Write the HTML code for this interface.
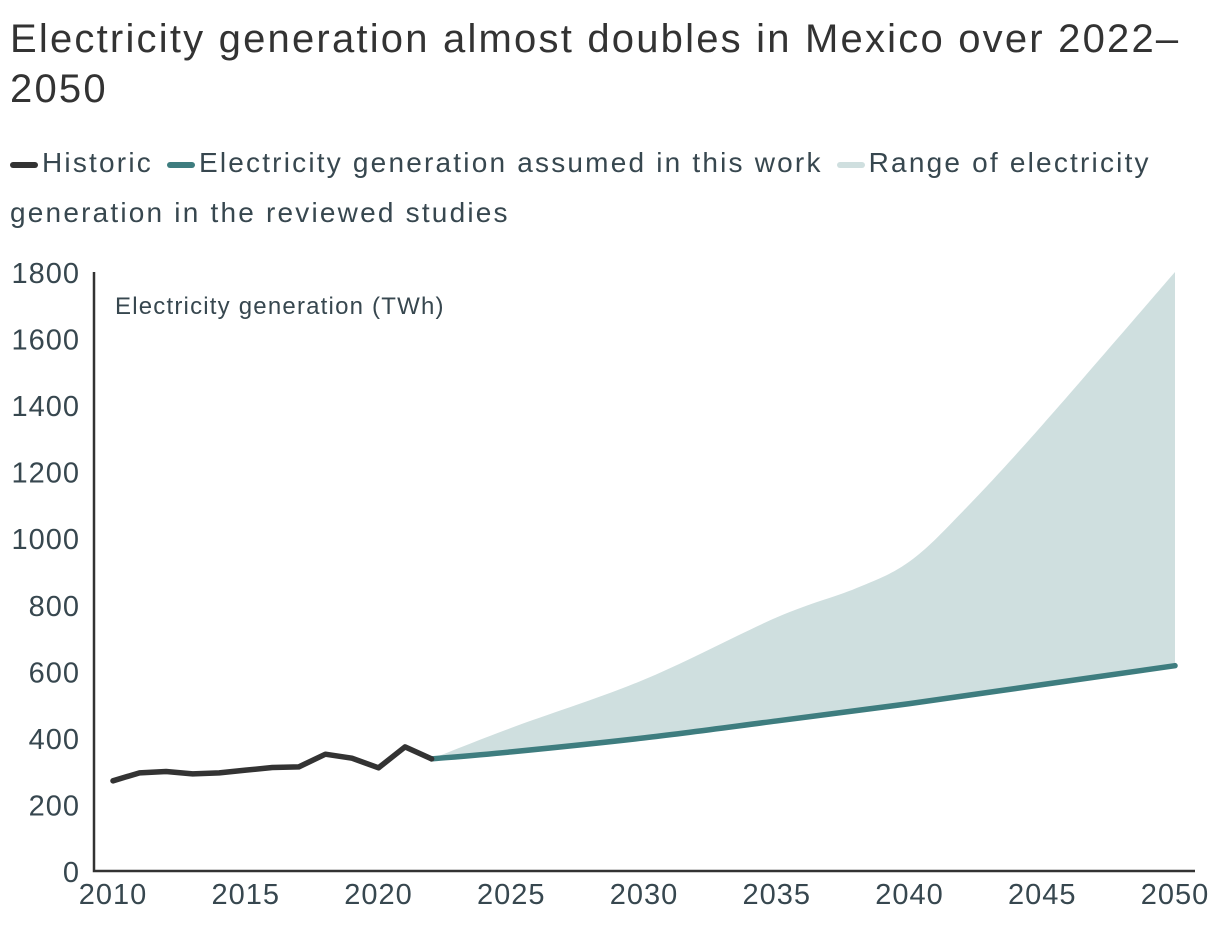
<!DOCTYPE html>
<html><head><meta charset="utf-8"><style>
body{margin:0;background:#fff;width:1220px;height:930px;overflow:hidden;font-family:"Liberation Sans",sans-serif;color:#333}
#title{position:absolute;left:10px;top:14px;font-size:40px;line-height:50px;color:#333;width:1210px;letter-spacing:2.2px;white-space:nowrap}
#legend{position:absolute;left:10px;top:138px;font-size:28px;line-height:50px;color:#37474f;width:1210px;letter-spacing:2.2px;white-space:nowrap}
.sw{display:inline-block;width:28px;height:6px;border-radius:3px;vertical-align:middle;margin-right:4px}
</style></head><body>
<div id="title">Electricity generation almost doubles in Mexico over 2022–<br>2050</div>
<div id="legend">
<span><span class="sw" style="background:#333"></span>Historic</span>
<span style="margin-left:4px"><span class="sw" style="background:#3e7d7f"></span>Electricity generation assumed in this work</span>
<span style="margin-left:4px"><span class="sw" style="background:#cfdfdf"></span>Range of electricity<br>generation in the reviewed studies</span>
</div>
<svg id="chart" width="1220" height="930" style="position:absolute;left:0;top:0"></svg>
<script>
const histYears=[2010,2011,2012,2013,2014,2015,2016,2017,2018,2019,2020,2021,2022];
const histVals=[271,295,299,292,295,303,311,313,351,339,310,373,337];
const projYears=[2022,2025,2030,2035,2040,2045,2050];
const projVals=[337,358,400,451,503,560,617];
const rangeYears=[2022,2025,2030,2035,2038,2040,2042,2045,2050];
const rangeUpper=[337,430,575,762,850,930,1080,1340,1800];
const rangeLower=[337,358,400,451,482,503,526,560,617];
const yTicks=[0,200,400,600,800,1000,1200,1400,1600,1800];
const xTicks=[2010,2015,2020,2025,2030,2035,2040,2045,2050];
const svg=document.getElementById('chart');const NS='http://www.w3.org/2000/svg';
const x=v=>113+(v-2010)*(1175-113)/40;
const y=v=>871-v*(871-272)/1800;
function mk(t,a){const e=document.createElementNS(NS,t);for(const k in a)e.setAttribute(k,a[k]);svg.appendChild(e);return e;}
function smooth(pts,start){let d=start?'M'+pts[0][0]+','+pts[0][1]:'L'+pts[0][0]+','+pts[0][1];
for(let i=0;i<pts.length-1;i++){const p0=pts[i-1]||pts[i],p1=pts[i],p2=pts[i+1],p3=pts[i+2]||p2;
const c1=[p1[0]+(p2[0]-p0[0])/6,p1[1]+(p2[1]-p0[1])/6],c2=[p2[0]-(p3[0]-p1[0])/6,p2[1]-(p3[1]-p1[1])/6];
d+='C'+c1+' '+c2+' '+p2;}return d;}
const up=rangeYears.map((t,i)=>[x(t),y(rangeUpper[i])]);
const lo=rangeYears.map((t,i)=>[x(t),y(rangeLower[i])]).reverse();
const area=mk('path',{d:smooth(up,true)+smooth(lo,false)+'Z',fill:'#cfdfdf'});


const ax=mk('path',{d:'M94,272V871H1195',stroke:'#333','stroke-width':2.5,fill:'none'});


yTicks.forEach(v=>{const t=mk('text',{x:80,y:y(v)+11,'text-anchor':'end','font-size':29,'letter-spacing':1,fill:'#37474f'});t.textContent=v;

});
xTicks.forEach(v=>{const t=mk('text',{x:x(v),y:904,'text-anchor':'middle','font-size':29,'letter-spacing':1,fill:'#37474f'});t.textContent=v;

});
const yl=mk('text',{x:115,y:314,'font-size':24,'letter-spacing':1.2,fill:'#37474f'});yl.textContent='Electricity generation (TWh)';


const pl=mk('path',{d:smooth(projYears.map((t,i)=>[x(t),y(projVals[i])]),true),fill:'none',stroke:'#3e7d7f','stroke-width':5.5,'stroke-linecap':'round','stroke-linejoin':'round'});


const hl=mk('polyline',{points:histYears.map((t,i)=>x(t)+','+y(histVals[i])).join(' '),fill:'none',stroke:'#333','stroke-width':5.5,'stroke-linecap':'round','stroke-linejoin':'round'});


</script>
</body></html>
